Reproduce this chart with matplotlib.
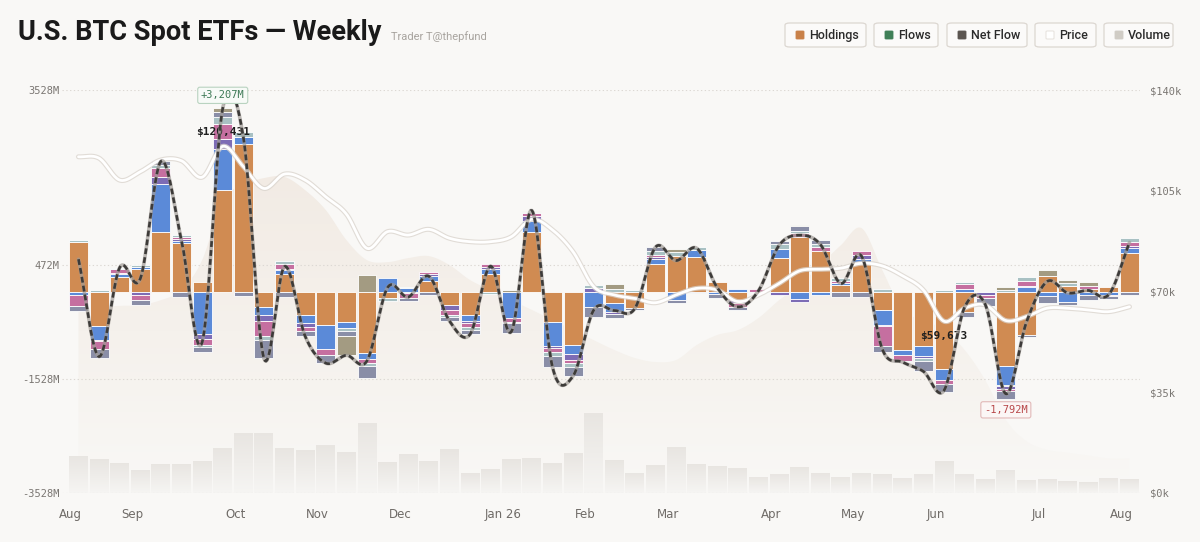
import numpy as np
import pandas as pd
import matplotlib
matplotlib.use("Agg")
import matplotlib.pyplot as plt
from matplotlib.patches import FancyBboxPatch, Polygon
from matplotlib.colors import LinearSegmentedColormap
import matplotlib.patheffects as pe

# ---------------- data ----------------
weeks = pd.date_range("2025-08-11", periods=52, freq="W-MON")

ibit = [875, -612, 260, 400, 1038, 851, 170, 1779, 2584, -274, 309, -408, -595, -537, -1073, -110,
        -35, 192, -245, -420, 309, 0, 1038, -537, -933, 0, -204, -290, 484, 630, 600, 175,
        -157, 0, 589, 962, 706, 122, 513, -321, -1021, -962, -1353, -362, 0, -1300, -770, 280,
        105, 47, 76, 671]
fbtc = [-70, -233, 50, 30, 846, 35, -740, 717, 117, -140, 70, -146, -414, -99, -105, 230,
        58, 87, 0, -100, 87, -470, 204, -420, -169, -280, -163, 0, 87, -157, 128, -52,
        47, 0, 157, -128, -70, 35, 58, -260, -99, -163, -192, 47, 0, -330, 75, -87,
        -187, -58, -58, 99]
green = [0] * 45 + [-30] + [0] * 6
arkb = [0, -30, 20, -70, 117, 25, -87, 175, 0, -105, 20, -70, 0, 0, 0, 0,
        0, 25, -82, -40, 30, 0, 87, -35, -99, 70, -30, 0, 30, 0, 0, 0,
        -40, 0, -70, -58, 0, 0, 76, -30, 0, -40, 0, 0, -58, -40, 25, 0,
        0, 0, 0, 30]
bitb = [-190, -140, 60, -85, 157, 40, -117, 262, 0, -262, 80, -70, -105, 0, -70, 0,
        -76, 33, -88, -60, 58, -60, 41, -70, -58, 0, 0, 0, 30, 0, 0, 0,
        -70, 45, 0, 58, 70, 35, 70, -340, -99, 0, -70, 76, -58, -50, 90, 0,
        0, 47, -29, 70]
others = [30, 25, 30, 40, 62, 40, -29, 120, 87, -60, 60, 0, 0, -64, -58, -50,
          15, 0, -40, -50, -40, -30, 25, -60, -60, 45, 44, 29, 76, 58, 58, 0,
          0, -30, 87, 47, 58, 47, 0, 47, 0, -58, 29, 40, 15, 29, 72, 0,
          41, 0, 0, 58]
gbtc = [-80, -150, 0, -90, 60, -100, -87, 90, -87, -330, -100, -90, -140, -87, -200, 0,
        -60, -70, -60, -80, 0, -175, 0, -200, -160, -160, -70, -35, 70, -47, -29, -58,
        -50, 0, 47, 87, 59, -99, -99, -100, -20, -176, -146, -76, -146, -129, -29, -117,
        -41, -87, -41, -70]
hodl = [0, 0, 0, 0, 0, 0, 0, 64, 0, 0, 0, 0, 0, -330, 292, 0,
        0, 0, 0, 0, 0, 29, 23, 0, 0, 0, 90, 0, 0, 58, 0, 0,
        0, 0, 0, 18, 0, 0, 0, 0, 0, 0, 0, 0, 20, 58, 0, 99,
        58, 70, 0, 0]

price_k = [116.8, 116.3, 108.7, 111.6, 115.7, 115.4, 109.7, 120.431, 113.4, 105.8, 110.8, 108.7,
           102.9, 96.9, 85.0, 90.8, 89.6, 91.6, 88.5, 87.3, 87.3, 89.0, 95.1, 91.4,
           83.8, 71.7, 68.8, 67.6, 66.1, 68.8, 71.1, 70.5, 66.5, 68.8, 72.8, 77.2,
           77.7, 78.1, 79.8, 78.9, 75.4, 70.5, 59.673, 64.2, 65.3, 59.9, 61.3, 64.2,
           64.2, 63.6, 63.0, 64.7]

volume_b = [16.7, 15.2, 13.6, 10.4, 13.1, 13.1, 14.5, 20.4, 27.1, 27.1, 20.3, 19.4,
            21.5, 18.6, 31.6, 14.1, 17.6, 14.5, 19.7, 8.9, 10.8, 15.2, 15.9, 13.4,
            17.9, 36.1, 14.9, 9.1, 12.6, 20.8, 13.1, 12.2, 11.1, 7.3, 8.6, 11.8,
            8.9, 7.3, 9.1, 8.4, 6.9, 8.6, 14.4, 8.6, 6.3, 10.4, 5.9, 6.3,
            5.4, 4.8, 6.9, 6.2]

holdings_idx = [63.6, 64.5, 65.0, 65.3, 67.0, 70.5, 80.9, 101.8, 107.0, 109.4, 109.8, 105.2,
                98.3, 87.9, 80.9, 80.2, 81.6, 82.3, 79.2, 74.0, 70.5, 67.0, 63.6, 60.1,
                56.6, 53.1, 49.7, 46.9, 45.5, 46.2, 51.4, 54.9, 56.6, 60.8, 67.0, 72.2,
                79.2, 86.1, 92.0, 77.5, 63.6, 60.1, 56.6, 49.7, 39.2, 25.4, 18.0, 15.0,
                14.0, 13.0, 12.0, 12.0]

series = [
    ("IBIT", ibit, "#d08b52"),
    ("FBTC", fbtc, "#5b8ad8"),
    ("EZBC", green, "#4e9a6a"),
    ("ARKB", arkb, "#7d6cb5"),
    ("BITB", bitb, "#c56fa0"),
    ("Other", others, "#a9c1c3"),
    ("GBTC", gbtc, "#8a8ea7"),
    ("HODL", hodl, "#a39b82"),
]

left_ticks = [3528, 472, -1528, -3528]
right_ticks = [140, 105, 70, 35, 0]

# ---------------- helpers ----------------
def catmull(x, y, n=20):
    x = np.asarray(x, float)
    y = np.asarray(y, float)
    px = np.concatenate([[2 * x[0] - x[1]], x, [2 * x[-1] - x[-2]]])
    py = np.concatenate([[2 * y[0] - y[1]], y, [2 * y[-1] - y[-2]]])
    t = np.linspace(0, 1, n, endpoint=False)
    ox, oy = [], []
    for i in range(1, len(px) - 2):
        for p, o in ((px, ox), (py, oy)):
            p0, p1, p2, p3 = p[i - 1], p[i], p[i + 1], p[i + 2]
            o.extend(0.5 * (2 * p1 + (-p0 + p2) * t + (2 * p0 - 5 * p1 + 4 * p2 - p3) * t ** 2
                            + (-p0 + 3 * p1 - 3 * p2 + p3) * t ** 3))
    ox.append(x[-1]); oy.append(y[-1])
    return np.array(ox), np.array(oy)

BG = "#f9f8f6"
x = np.arange(len(weeks))
W = 0.92
net = np.sum([np.asarray(s[1], float) for s in series], axis=0)
price = np.asarray(price_k)

W_PX, H_PX = 1200, 542
fig = plt.figure(figsize=(12, 5.42), dpi=100, facecolor=BG)
rect = [62 / W_PX, 49 / H_PX, 1078 / W_PX, 403 / H_PX]
XLIM = (-0.80, 51.51)

ax_area = fig.add_axes(rect)
ax_vol = fig.add_axes(rect, sharex=ax_area)
ax = fig.add_axes(rect, sharex=ax_area)
ax_p = fig.add_axes(rect, sharex=ax_area)
ax_n = fig.add_axes(rect, sharex=ax_area)

ax_area.set_facecolor(BG)
for a in (ax_vol, ax, ax_p, ax_n):
    a.patch.set_visible(False)
for a in (ax_area, ax_vol, ax, ax_p, ax_n):
    for s in a.spines.values():
        s.set_visible(False)
    a.set_xlim(*XLIM)

# holdings area (faint gradient)
ax_area.set_ylim(0, 140)
hx, hy = catmull(x, holdings_idx)
poly = Polygon(np.column_stack([np.r_[hx, hx[-1], hx[0]], np.r_[hy, 0, 0]]),
               closed=True, facecolor="none", edgecolor="none")
ax_area.add_patch(poly)
cm_area = LinearSegmentedColormap.from_list("ar", ["#f9f8f6", "#f5f1ec", "#f2ebe4"])
grad = np.linspace(0, 1, 256).reshape(-1, 1)
im = ax_area.imshow(grad, extent=[XLIM[0], XLIM[1], 0, 112], aspect="auto", origin="lower",
                    cmap=cm_area, zorder=1)
im.set_clip_path(poly)
ax_area.tick_params(left=False, labelleft=False, bottom=False, labelbottom=False)

# volume bars with gradient
ax_vol.set_ylim(0, 181.35)
cm_vol = LinearSegmentedColormap.from_list("vo", ["#f6f5f3", "#e8e5e1"])
vbars = ax_vol.bar(x, volume_b, width=W, color="none", edgecolor="none")
for b, v, xi in zip(vbars, volume_b, x):
    g = ax_vol.imshow(grad, extent=[xi - W / 2, xi + W / 2, 0, v], aspect="auto", origin="lower",
                      cmap=cm_vol, zorder=1)
    g.set_clip_path(b)
ax_vol.set_xlim(*XLIM)
ax_vol.axis("off")

# stacked flow bars
ax.set_ylim(-3528, 3528)
pos_b = np.zeros(len(x)); neg_b = np.zeros(len(x))
for name, vals, col in series:
    v = np.asarray(vals, float)
    mp = v > 0
    mn = v < 0
    if mp.any():
        ax.bar(x[mp], v[mp], bottom=pos_b[mp], width=W, color=col, edgecolor="white",
               linewidth=0.6, zorder=3)
    if mn.any():
        ax.bar(x[mn], v[mn], bottom=neg_b[mn], width=W, color=col, edgecolor="white",
               linewidth=0.6, zorder=3)
    pos_b += np.where(mp, v, 0)
    neg_b += np.where(mn, v, 0)

ax.set_yticks(left_ticks)
ax.set_yticklabels([f"{t}M" for t in left_ticks], family="DejaVu Sans Mono", fontsize=7.5,
                   color="#7a7672")
ax.tick_params(axis="y", length=0, pad=2)
ax.grid(axis="y", color="#dcd8d3", linestyle=(0, (1.2, 2.2)), linewidth=0.8)
ax.set_axisbelow(True)

# month ticks
first_idx, labels = [], []
for i, d in enumerate(weeks):
    if i == 0 or d.month != weeks[i - 1].month:
        first_idx.append(i)
        labels.append("Jan 26" if d.month == 1 else d.strftime("%b"))
ax.set_xticks(np.array(first_idx) - 0.4)
ax.set_xticklabels(labels, fontsize=8.5, color="#6f6b67", family="DejaVu Sans")
ax.tick_params(axis="x", length=0, pad=11)

# price line
ax_p.set_ylim(0, 140)
px_, py_ = catmull(x, price)
ax_p.plot(px_, py_, color="white", lw=2.0, zorder=5, solid_capstyle="round",
          path_effects=[pe.Stroke(linewidth=3.6, foreground="#d9d3cc", alpha=0.75), pe.Normal()])
ax_p.yaxis.tick_right()
ax_p.set_yticks(right_ticks)
ax_p.set_yticklabels([f"${t}k" for t in right_ticks], family="DejaVu Sans Mono", fontsize=7.5,
                     color="#7a7672")
ax_p.tick_params(axis="y", length=0, pad=7)
ax_p.tick_params(axis="x", bottom=False, labelbottom=False)
imax = int(np.argmax(price)); imin = int(np.argmin(price))
ax_p.annotate(f"${price[imax]*1000:,.0f}", (x[imax], price[imax]), xytext=(0, 14),
              textcoords="offset pixels", ha="center", va="center", fontsize=8, weight="bold",
              family="DejaVu Sans Mono", color="#1f1f1f", zorder=8)
ax_p.annotate(f"${price[imin]*1000:,.0f}", (x[imin], price[imin]), xytext=(0, -15),
              textcoords="offset pixels", ha="center", va="center", fontsize=8, weight="bold",
              family="DejaVu Sans Mono", color="#1f1f1f", zorder=8)

# net flow line
ax_n.set_ylim(-3528, 3528)
nx, ny = catmull(x, net)
ax_n.plot(nx, ny, color="#a09b96", lw=2.6, alpha=0.7, zorder=6, solid_capstyle="round")
ax_n.plot(nx, ny, color="#3d3b39", lw=1.9, dashes=(2.2, 1.2), zorder=7)
ax_n.axis("off")
jmax = int(np.argmax(net)); jmin = int(np.argmin(net))
ax_n.annotate(f"+{net[jmax]:,.0f}M", (x[jmax], net[jmax]), xytext=(0, 13),
              textcoords="offset pixels", ha="center", va="center", fontsize=7.5,
              family="DejaVu Sans Mono", color="#3d7a56", zorder=9,
              bbox=dict(boxstyle="round,pad=0.3,rounding_size=0.2", fc="#f7faf7", ec="#b9d3c0", lw=0.8))
ax_n.annotate(f"{net[jmin]:,.0f}M", (x[jmin], net[jmin]), xytext=(0, -16),
              textcoords="offset pixels", ha="center", va="center", fontsize=7.5,
              family="DejaVu Sans Mono", color="#b8484a", zorder=9,
              bbox=dict(boxstyle="round,pad=0.3,rounding_size=0.2", fc="#fbf6f5", ec="#e2b9b8", lw=0.8))

# title
fig.text(18 / W_PX, 1 - 33 / H_PX, "U.S. BTC Spot ETFs — Weekly", fontsize=19.6, weight="bold",
         family="Roboto", color="#1a1a1a", va="center", ha="left")
fig.text(391 / W_PX, 1 - 37 / H_PX, "Trader T@thepfund", fontsize=8, family="Roboto",
         color="#a8a49f", va="center", ha="left")

# legend buttons
legend_items = [("Holdings", "#c98149"), ("Flows", "#3f7f57"), ("Net Flow", "#5b5550"),
                ("Price", "#ffffff"), ("Volume", "#d0ccc5")]
btn_x = [785, 874, 947, 1035, 1104]
btn_w = [81, 64, 80, 61, 69]
for (lab, col), bx, bw in zip(legend_items, btn_x, btn_w):
    fig.patches.append(FancyBboxPatch((bx / W_PX, 1 - 47 / H_PX), bw / W_PX, 24 / H_PX,
                                      boxstyle="round,pad=0,rounding_size=0.004",
                                      transform=fig.transFigure, fc="#fbfaf9", ec="#dcd7d1", lw=0.9))
    fig.patches.append(FancyBboxPatch(((bx + 11) / W_PX, 1 - 39 / H_PX), 8 / W_PX, 8 / H_PX,
                                      boxstyle="round,pad=0,rounding_size=0.001",
                                      transform=fig.transFigure, fc=col,
                                      ec="#e2ddd7" if col == "#ffffff" else col, lw=0.6))
    fig.text((bx + 24) / W_PX, 1 - 35.5 / H_PX, lab, fontsize=9, family="Roboto", weight="medium",
             color="#2b2b2b", va="center", ha="left")

fig.savefig("out.png", dpi=100, facecolor=BG)
